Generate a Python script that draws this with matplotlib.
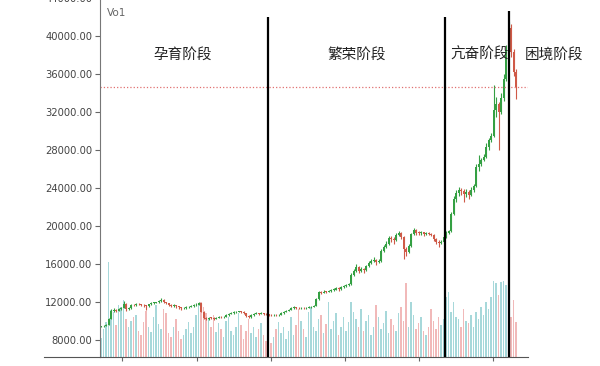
import matplotlib
matplotlib.use("Agg")
import matplotlib.pyplot as plt
from matplotlib.lines import Line2D

# daily candles, oldest first
closes = [
    9450, 9520, 9600, 10250, 11050, 11150, 11050, 11250, 11400, 11800,
    11300, 11350, 11700, 11650, 11780, 11750, 11700, 11650, 11550, 11750,
    11880, 11900, 11950, 12100, 12250, 12000, 11850, 11700, 11600, 11650,
    11550, 11450, 11350, 11400, 11450, 11500, 11550, 11650, 11700, 11850,
    10950, 10300, 10250, 10350, 10300, 10250, 10350, 10400, 10380, 10450,
    10600, 10750, 10800, 10900, 10950, 11000, 10950, 10800, 10550, 10400,
    10600, 10750, 10800, 10750, 10800, 10750, 10700, 10650, 10600, 10650,
    10600, 10650, 10800, 10950, 11050, 11200, 11350, 11450, 11400, 11350,
    11400, 11350, 11400, 11450, 11500, 11600, 12300, 13050, 12950, 13100,
    13050, 13150, 13250, 13300, 13450, 13350, 13550, 13650, 13750, 13850,
    14800, 15300, 15650, 15300, 15450, 15350, 15750, 16100, 16350, 16450,
    16200, 16300, 17400, 17800, 18100, 18700, 18600, 18550, 19100, 19250,
    18850, 17600, 17300, 17900, 19150, 19550, 19300, 19250, 19350, 19150,
    19250, 19200, 19100, 18600, 18300, 18200, 18350, 18800, 19300, 19450,
    21300, 22800, 23500, 23800, 23700, 23400, 23600, 23300, 23800, 24200,
    26200, 26500, 26900, 27300, 28300, 29000, 29500, 32200, 32800, 32000,
    33500, 35500, 38500, 40800, 38300, 36200, 34600,
]
first_open = 9400
highs = [
    9520, 9600, 9700, 10350, 11300, 11400, 11250, 11400, 11500, 12100,
    11850, 11500, 11800, 11800, 11900, 11850, 11820, 11780, 11700, 11800,
    11950, 12000, 12050, 12200, 12400, 12300, 12050, 11900, 11750, 11750,
    11700, 11600, 11500, 11500, 11550, 11600, 11650, 11750, 11850, 12050,
    11900, 11000, 10400, 10450, 10400, 10380, 10450, 10500, 10480, 10550,
    10700, 10850, 10900, 11000, 11100, 11100, 11100, 11000, 10850, 10600,
    10700, 10850, 10900, 10880, 10900, 10850, 10800, 10750, 10700, 10750,
    10700, 10750, 10900, 11050, 11150, 11300, 11450, 11550, 11500, 11450,
    11500, 11450, 11500, 11550, 11600, 11700, 12400, 13200, 13150, 13250,
    13200, 13300, 13400, 13450, 13600, 13550, 13700, 13800, 13900, 14000,
    15000, 15500, 15950, 15750, 15650, 15550, 15900, 16300, 16500, 16700,
    16550, 16500, 17600, 18000, 18400, 18900, 18900, 18800, 19300, 19500,
    19400, 18900, 17800, 18100, 19300, 19800, 19650, 19450, 19500, 19400,
    19400, 19350, 19300, 19200, 18700, 18500, 18550, 19000, 19450, 19600,
    21500, 23200, 23800, 24100, 24000, 23900, 23900, 23800, 24100, 24400,
    26500, 27500, 27200, 27600, 28700, 29300, 29800, 34800, 33600, 33100,
    34000, 36000, 39000, 41500, 41300, 38600, 36500,
]
lows = [
    9350, 9420, 9480, 9550, 10200, 10950, 10900, 11000, 11150, 11350,
    11050, 11200, 11300, 11550, 11600, 11650, 11600, 11500, 11200, 11500,
    11700, 11800, 11850, 11900, 12050, 11900, 11750, 11600, 11500, 11500,
    11400, 11300, 11200, 11250, 11300, 11400, 11450, 11500, 11600, 11650,
    10900, 10200, 10100, 10150, 10200, 10150, 10200, 10300, 10280, 10350,
    10400, 10550, 10700, 10750, 10850, 10900, 10850, 10700, 10450, 10300,
    10350, 10550, 10700, 10650, 10700, 10650, 10600, 10550, 10500, 10550,
    10500, 10550, 10600, 10750, 10900, 11000, 11150, 11300, 11300, 11250,
    11300, 11250, 11300, 11350, 11400, 11450, 11550, 12250, 12800, 12900,
    12950, 13000, 13100, 13150, 13250, 13200, 13300, 13500, 13600, 13700,
    13800, 14700, 15200, 15000, 15200, 15100, 15300, 15700, 16000, 16200,
    15900, 16100, 16250, 17300, 17700, 18000, 18300, 18100, 18400, 18900,
    18600, 16500, 16800, 17200, 17800, 19000, 19100, 19000, 19100, 18900,
    19000, 19000, 18900, 18400, 18100, 17800, 18100, 18250, 18700, 19200,
    19400, 21200, 22500, 23200, 23300, 22500, 23100, 22800, 23200, 23600,
    24100, 25800, 26300, 26800, 27200, 28000, 28800, 29400, 31500, 28000,
    31800, 33200, 35300, 38200, 37800, 35800, 33400,
]
volumes = [
    19, 28, 35, 95, 47, 45, 32, 52, 50, 57,
    38, 30, 36, 40, 42, 26, 22, 35, 46, 30,
    25, 40, 52, 33, 28, 48, 44, 24, 20, 30,
    38, 26, 18, 22, 28, 35, 24, 30, 42, 54,
    55, 50, 44, 38, 30, 42, 25, 34, 28, 20,
    36, 40, 26, 22, 30, 44, 32, 18, 26, 38,
    24, 30, 20, 28, 34, 22, 16, 10, 14, 20,
    28, 35, 24, 30, 18, 26, 40, 22, 32, 48,
    36, 28, 20, 45, 50, 30, 26, 38, 42, 24,
    33, 55, 28, 36, 44, 22, 30, 40, 26, 35,
    55, 45, 38, 30, 48, 26, 36, 42, 22, 30,
    52, 40, 28, 34, 46, 24, 38, 32, 26, 44,
    50, 36, 74, 30, 55, 42, 28, 34, 40, 26,
    22, 30, 48, 36, 28, 40, 32, 38, 60, 65,
    45, 55, 40, 38, 30, 48, 36, 34, 42, 30,
    45, 38, 50, 42, 55, 48, 60, 76, 74, 62,
    75, 76, 72, 74, 40, 57, 35,
]
opens = [first_open] + closes[:-1]

phase_names = ["孕育阶段", "繁荣阶段", "亢奋阶段", "困境阶段"]
phase_breaks = [66.8, 137.6, 163.2]
alert_level = 34630

up_col, down_col = "#34a043", "#cf5a48"
vol_up, vol_down = "#a7d8da", "#f1b9b9"

fig = plt.figure(figsize=(6, 3.66), dpi=100)
ax = fig.add_axes([100 / 600, 9 / 366, 428 / 600, 359 / 366])
ax2 = ax.twinx()

x = list(range(len(closes)))
up = [c >= o for o, c in zip(opens, closes)]

# volume bars in the background
ax2.bar(x, volumes, width=0.45, color=[vol_up if u else vol_down for u in up])
ax2.set_ylim(0, 359)
ax2.axis("off")
ax.set_zorder(ax2.get_zorder() + 1)
ax.patch.set_visible(False)

# candles
cols = [up_col if u else down_col for u in up]
ax.vlines(x, lows, highs, colors=cols, lw=0.8)
bottoms = [min(o, c) for o, c in zip(opens, closes)]
heights = [max(abs(c - o), 70) for o, c in zip(opens, closes)]
ax.bar(x, heights, bottom=bottoms, width=0.8, color=cols)

ax.set_xlim(-0.4, 170.8)
ax.set_ylim(6210, 44000)
ax.set_yticks(range(8000, 44001, 4000))
ax.set_yticklabels([f"{v:.2f}" for v in range(8000, 44001, 4000)])
ax.set_xticks([8.4, 38.4, 68, 97.6, 127.2, 156.8])
ax.set_xticklabels([])
ax.tick_params(axis="y", length=3.5, width=0.8, color="#666", labelsize=7.2,
               labelcolor="#444", pad=2)
ax.tick_params(axis="x", length=3, width=0.8, color="#666")
for s in ["top", "right"]:
    ax.spines[s].set_visible(False)
ax.spines["left"].set_color("#777")
ax.spines["bottom"].set_color("#555")
fig.add_artist(Line2D([44 / 600, 100 / 600], [9 / 366, 9 / 366], color="#555",
                      lw=0.8, transform=fig.transFigure))

ax.axhline(alert_level, color="#e07070", ls=":", lw=0.9)

tops = [42000, 42000, 42600]
for b, t in zip(phase_breaks, tops):
    ax.vlines(b, 6210, t, color="black", lw=1.6, zorder=5)

label_x = [32.8, 102.4, 151.6, 181]
for name, lx in zip(phase_names, label_x):
    ax.text(lx, 38000, name, ha="center", va="center", fontsize=10.5,
            family=["Noto Sans CJK SC", "DejaVu Sans"], color="#222")

ax.text(2.5, 42400, "Vo1", fontsize=7.5, color="#666", va="center")

fig.savefig("out.png", dpi=100)
